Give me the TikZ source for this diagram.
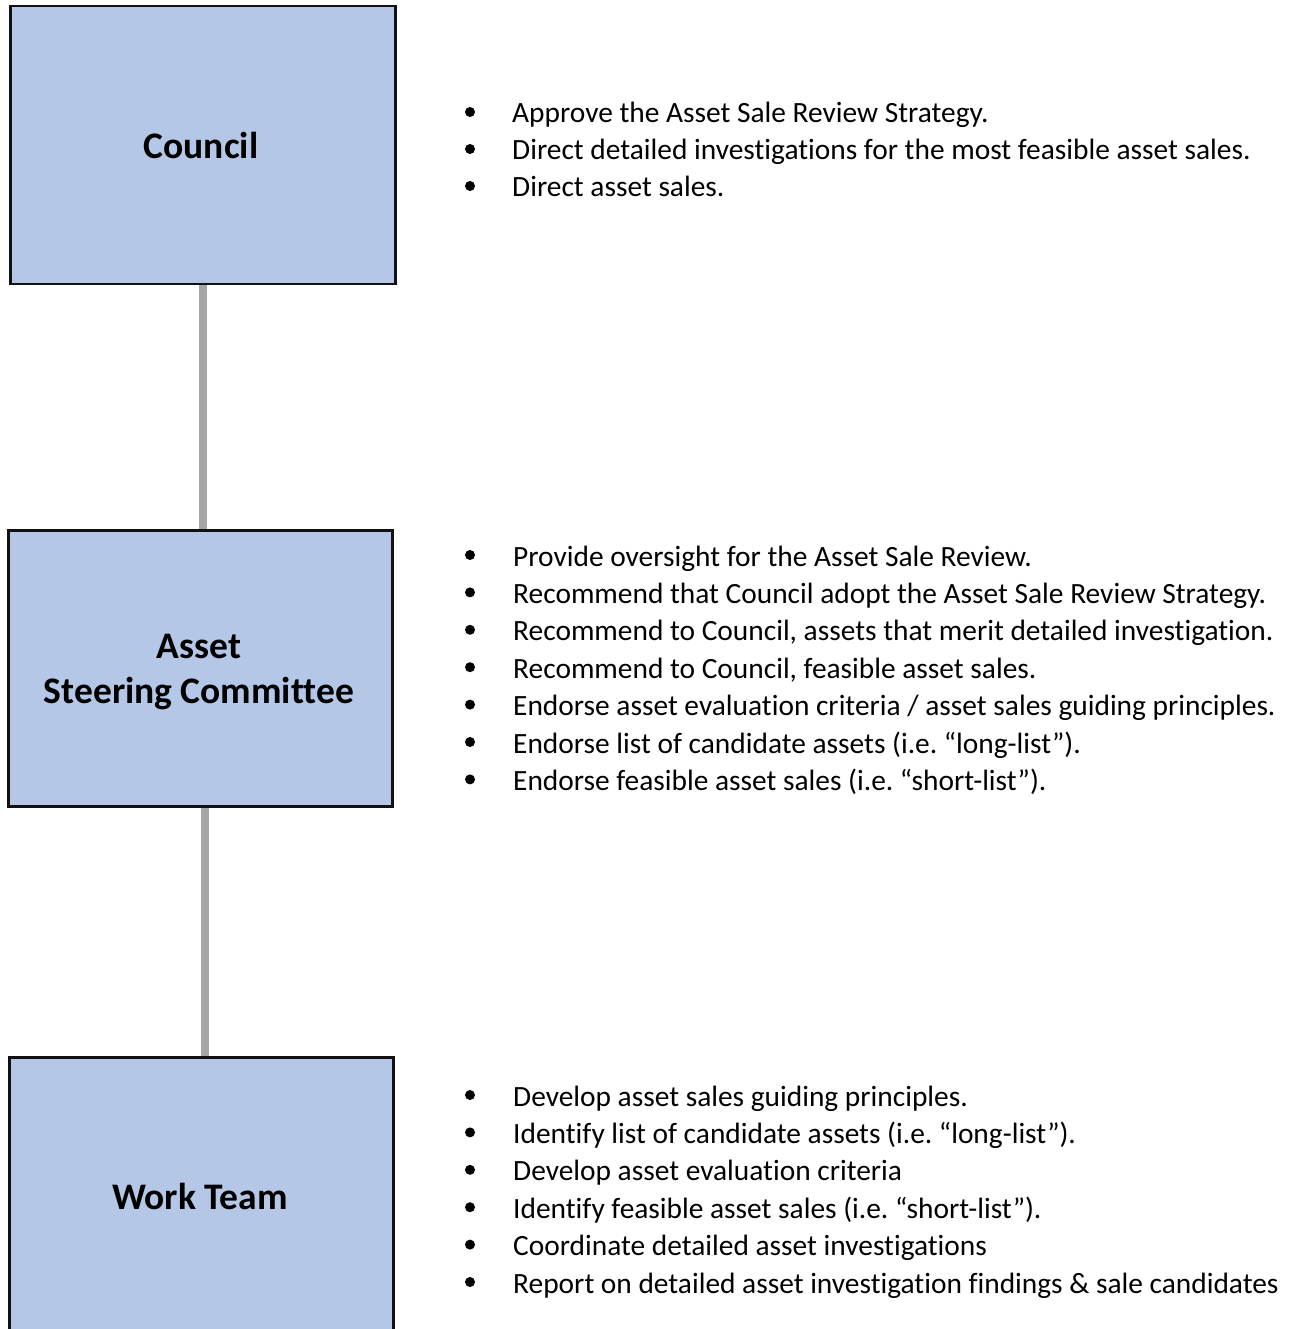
\documentclass[tikz,border=0pt]{standalone}
\usepackage{fontspec}
\setmainfont{Carlito}[Ligatures={NoCommon}]
\definecolor{boxfill}{HTML}{B4C7E7}
\definecolor{boxline}{HTML}{111111}
\definecolor{connline}{HTML}{A6A6A6}
\tikzset{
  rolebox/.style={draw=boxline, line width=2.5pt, fill=boxfill, anchor=north west, inner sep=0pt},
  roletitle/.style={font=\fontsize{37.5}{45}\selectfont\bfseries, align=center, inner sep=0pt, anchor=base},
  item/.style={font=\fontsize{29.4}{37}\selectfont\frenchspacing, anchor=base west, inner sep=0pt},
  conn/.style={draw=connline, line width=8pt},
}
\newcommand{\bul}[2]{\fill (#1,#2-11) circle (5pt);}
\begin{document}
\begin{tikzpicture}[x=1pt,y=-1pt]
\useasboundingbox (0,0) rectangle (1300,1329);
% boxes
\node[rolebox, minimum width=385pt, minimum height=278pt] (council) at (9,5) {};
\node[rolebox, minimum width=384pt, minimum height=276pt] (steer) at (7,529) {};
\node[rolebox, minimum width=384pt, minimum height=300pt] (work) at (8,1056) {};
% connectors
\path (council.south) ++(0.5,0) coordinate (c1);
\path (steer.south) ++(4.5,0) coordinate (c2);
\draw[conn] (c1) -- (c1 |- steer.north);
\draw[conn] (c2) -- (c2 |- work.north);
% redraw boxes over connector ends
\node[rolebox, minimum width=385pt, minimum height=278pt] at (9,5) {};
\node[rolebox, minimum width=384pt, minimum height=276pt] at (7,529) {};
\node[rolebox, minimum width=384pt, minimum height=300pt] at (8,1056) {};
% titles
\node[roletitle] (tcouncil) at (201,159) {Council};
\node[roletitle] (tsteer1) at (199,658) {Asset};
\node[roletitle] (tsteer2) at (199,703) {Steering Committee};
\node[roletitle] (twork) at (200,1209) {Work Team};
% council list
\node[item] (a1) at (512,123) {Approve the Asset Sale Review Strategy.};
\node[item] (a2) at (512,160) {Direct detailed investigations for the most feasible asset sales.};
\node[item] (a3) at (512,197) {Direct asset sales.};
\bul{470}{123}\bul{470}{160}\bul{470}{197}
% steering list
\node[item] (b1) at (513,566) {Provide oversight for the Asset Sale Review.};
\node[item] (b2) at (513,603.4) {Recommend that Council adopt the Asset Sale Review Strategy.};
\node[item] (b3) at (513,640.8) {Recommend to Council, assets that merit detailed investigation.};
\node[item] (b4) at (513,678.2) {Recommend to Council, feasible asset sales.};
\node[item] (b5) at (513,715.6) {Endorse asset evaluation criteria / asset sales guiding principles.};
\node[item] (b6) at (513,753) {Endorse list of candidate assets (i.e. “long-list”).};
\node[item] (b7) at (513,790.4) {Endorse feasible asset sales (i.e. “short-list”).};
\foreach \yy in {566,603.4,640.8,678.2,715.6,753,790.4} {\bul{470}{\yy}}
% work list
\node[item] (w1) at (513,1106) {Develop asset sales guiding principles.};
\node[item] (w2) at (513,1143.4) {Identify list of candidate assets (i.e. “long-list”).};
\node[item] (w3) at (513,1180.8) {Develop asset evaluation criteria};
\node[item] (w4) at (513,1218.2) {Identify feasible asset sales (i.e. “short-list”).};
\node[item] (w5) at (513,1255.6) {Coordinate detailed asset investigations};
\node[item] (w6) at (513,1293) {Report on detailed asset investigation findings \& sale candidates};
\foreach \yy in {1106,1143.4,1180.8,1218.2,1255.6,1293} {\bul{470}{\yy}}
\end{tikzpicture}
\end{document}
